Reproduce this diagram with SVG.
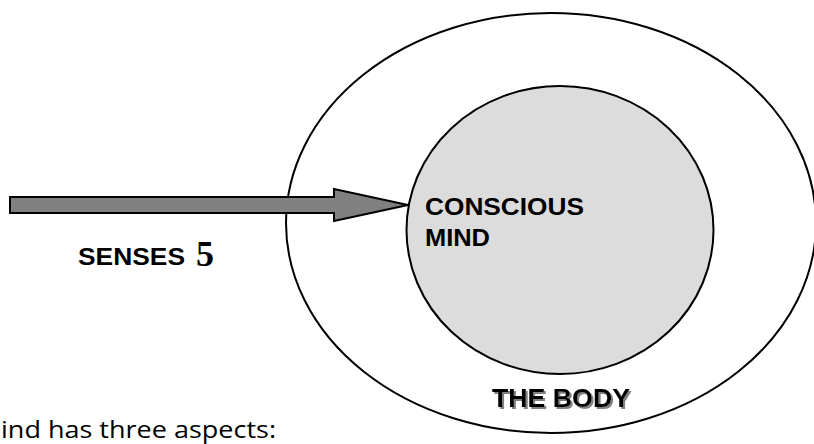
<svg xmlns="http://www.w3.org/2000/svg" width="814" height="444" viewBox="0 0 814 444">
  <style>
    .outline { stroke: #000; stroke-width: 2; }
    .label { font-family: "Liberation Sans", Arial, sans-serif; font-weight: bold; fill: #000; }
    .num { font-family: "Liberation Serif", "Times New Roman", serif; font-weight: bold; fill: #000; }
    .body-text { font-family: "Open Sans", "Liberation Sans", sans-serif; fill: #000; }
  </style>
  <defs>
    <filter id="shadow" x="-10%" y="-20%" width="120%" height="150%">
      <feDropShadow dx="2" dy="2" stdDeviation="0.6" flood-color="#808080" flood-opacity="1"/>
    </filter>
  </defs>
  <rect width="814" height="444" fill="#fff"/>

  <!-- The body: outer ellipse -->
  <g id="body">
    <ellipse cx="551" cy="223" rx="265" ry="210" fill="#fff" class="outline"/>
    <text class="label" x="492" y="407" font-size="26.5" textLength="138" lengthAdjust="spacingAndGlyphs" filter="url(#shadow)">THE BODY</text>
  </g>

  <!-- Conscious mind: inner shaded ellipse -->
  <g id="conscious-mind">
    <ellipse cx="560" cy="230" rx="153.5" ry="144" fill="#dcdcdc" class="outline"/>
    <text class="label" x="425" y="215" font-size="24.5" textLength="159" lengthAdjust="spacingAndGlyphs">CONSCIOUS</text>
    <text class="label" x="425" y="246" font-size="24.5" textLength="65" lengthAdjust="spacingAndGlyphs">MIND</text>
  </g>

  <!-- Senses input label -->
  <g id="senses">
    <text class="label" x="78" y="265" font-size="23.5" textLength="107" lengthAdjust="spacingAndGlyphs">SENSES</text>
    <text class="num" x="196" y="266" font-size="36">5</text>
  </g>

  <!-- Connector: block arrow from the senses into the mind -->
  <g id="connectors">
    <polygon points="10,197 334,197 334,189 408,205 334,221 334,213 10,213" fill="#808080" class="outline" stroke-linejoin="miter"/>
  </g>

  <text class="body-text" x="1" y="438" font-size="23" textLength="275" lengthAdjust="spacingAndGlyphs">ind has three aspects:</text>
</svg>
